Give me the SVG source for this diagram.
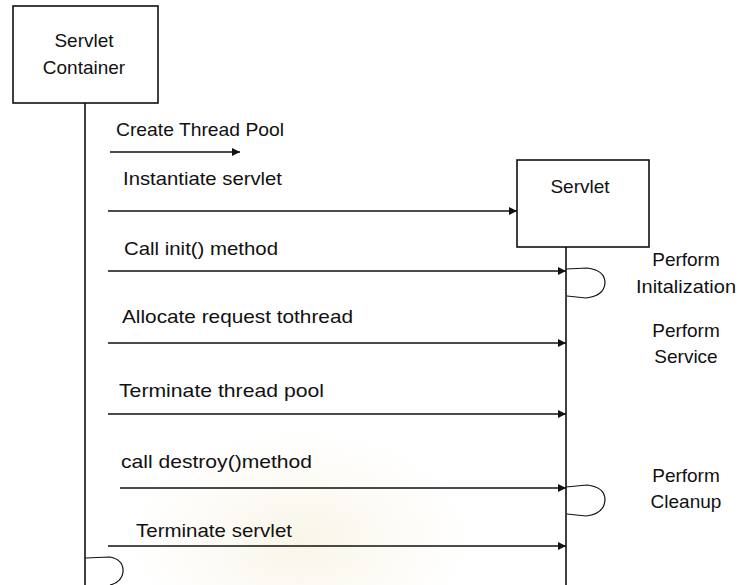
<svg xmlns="http://www.w3.org/2000/svg" width="739" height="585" viewBox="0 0 739 585">
  <style>
    text { font-family: "Liberation Sans", Arial, sans-serif; font-size: 19px; fill: #111; }
    .box { fill: #fff; stroke: #111; stroke-width: 1.6; }
    .life { stroke: #111; stroke-width: 1.6; fill: none; }
    .msg { stroke: #111; stroke-width: 1.6; fill: none; marker-end: url(#head); }
    .loop { stroke: #111; stroke-width: 1.2; fill: none; }
    .note { text-anchor: middle; }
  </style>
  <defs>
    <marker id="head" viewBox="0 0 10 10" refX="10" refY="5" markerWidth="8" markerHeight="8" markerUnits="userSpaceOnUse" orient="auto">
      <path d="M0,0 L10,5 L0,10 Z" fill="#111"/>
    </marker>
    <radialGradient id="seal" cx="0.5" cy="0.5" r="0.5">
      <stop offset="0" stop-color="#f3ecd2" stop-opacity="0.5"/>
      <stop offset="1" stop-color="#f3ecd2" stop-opacity="0"/>
    </radialGradient>
  </defs>

  <rect width="739" height="585" fill="#fff"/>
  <!-- faint background emblem -->
  <ellipse cx="300" cy="540" rx="170" ry="110" fill="url(#seal)"/>

  <g id="servlet-container">
    <rect class="box" x="13" y="6" width="145" height="97"/>
    <text x="84" y="47" text-anchor="middle">Servlet</text>
    <text x="84" y="74" text-anchor="middle">Container</text>
    <line class="life" x1="85" y1="103" x2="85" y2="585"/>
  </g>

  <g id="servlet">
    <rect class="box" x="517" y="160" width="132" height="87"/>
    <text x="580" y="193" text-anchor="middle">Servlet</text>
    <line class="life" x1="566" y1="247" x2="566" y2="585"/>
  </g>

  <g id="connectors">
    <line class="msg" x1="110" y1="152" x2="240" y2="152"/>
    <line class="msg" x1="108" y1="211" x2="517" y2="211"/>
    <line class="msg" x1="108" y1="271" x2="566" y2="271"/>
    <line class="msg" x1="108" y1="343" x2="566" y2="343"/>
    <line class="msg" x1="108" y1="414" x2="566" y2="414"/>
    <line class="msg" x1="120" y1="488" x2="566" y2="488"/>
    <line class="msg" x1="108" y1="546" x2="566" y2="546"/>
    <!-- self calls -->
    <path class="loop" d="M566,269 L587,268 Q605,270 605,283 Q604,296 586,298 L567,296"/>
    <path class="loop" d="M566,487 L587,485 Q605,487 605,500 Q604,514 586,516 L567,514"/>
    <path class="loop" d="M85,558 L110,557 Q124,560 123,572 Q122,582 110,585"/>
  </g>

  <g id="labels">
    <text x="116" y="136" textLength="168" lengthAdjust="spacingAndGlyphs">Create Thread Pool</text>
    <text x="123" y="185" textLength="159" lengthAdjust="spacingAndGlyphs">Instantiate servlet</text>
    <text x="124" y="255" textLength="154" lengthAdjust="spacingAndGlyphs">Call init() method</text>
    <text x="122" y="323" textLength="231" lengthAdjust="spacingAndGlyphs">Allocate request tothread</text>
    <text x="119" y="397" textLength="205" lengthAdjust="spacingAndGlyphs">Terminate thread pool</text>
    <text x="121" y="468" textLength="191" lengthAdjust="spacingAndGlyphs">call destroy()method</text>
    <text x="136" y="537" textLength="156" lengthAdjust="spacingAndGlyphs">Terminate servlet</text>
  </g>

  <g id="notes">
    <text class="note" x="686" y="266">Perform</text>
    <text class="note" x="686" y="293" textLength="100" lengthAdjust="spacingAndGlyphs">Initalization</text>
    <text class="note" x="686" y="337">Perform</text>
    <text class="note" x="686" y="363">Service</text>
    <text class="note" x="686" y="482">Perform</text>
    <text class="note" x="686" y="508">Cleanup</text>
  </g>
</svg>
